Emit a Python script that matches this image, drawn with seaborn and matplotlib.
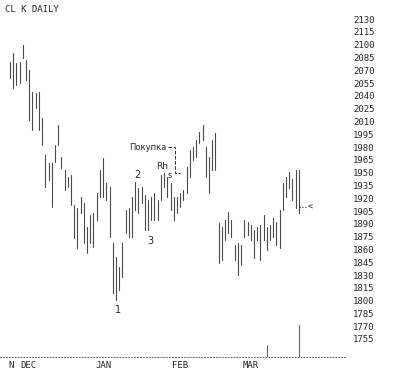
import pandas as pd
import numpy as np
import seaborn as sns
import matplotlib.pyplot as plt

# daily high / low of the CL K contract
highs = [2080, 2090, 2078, 2080, 2100, 2082, 2070, 2045, 2043, 2045,
         2014, 1971, 1961, 1961, 1982, 2006, 1968, 1953, 1945, 1947,
         1912, 1909, 1921, 1914, 1886, 1900, 1903, 1926, 1953, 1967,
         1938, 1933, 1868, 1851, 1839, 1868, 1906, 1909, 1921, 1939,
         1932, 1933, 1924, 1918, 1921, 1926, 1918, 1947, 1950, 1945,
         1938, 1921, 1921, 1926, 1930, 1957, 1977, 1980, 1988, 1998,
         2006, 1980, 1968, 1988, 1996, 1891, 1886, 1895, 1904, 1895,
         1865, 1868, 1865, 1895, 1892, 1889, 1883, 1886, 1889, 1900,
         1886, 1889, 1897, 1892, 1906, 1938, 1945, 1951, 1943, 1953,
         1953]
lows = [2061, 2049, 2053, 2055, 2084, 2059, 2012, 2000, 2026, 2000,
        1982, 1933, 1941, 1910, 1962, 1982, 1955, 1930, 1933, 1912,
        1873, 1862, 1903, 1868, 1856, 1868, 1863, 1895, 1921, 1921,
        1918, 1875, 1809, 1801, 1812, 1828, 1879, 1875, 1875, 1906,
        1903, 1914, 1883, 1883, 1895, 1895, 1895, 1918, 1933, 1921,
        1906, 1895, 1903, 1910, 1918, 1926, 1945, 1965, 1968, 1985,
        1988, 1945, 1926, 1953, 1953, 1844, 1848, 1871, 1879, 1875,
        1848, 1830, 1842, 1875, 1877, 1871, 1850, 1871, 1848, 1871,
        1859, 1871, 1875, 1865, 1862, 1906, 1921, 1932, 1918, 1909,
        1903]
last_price = 1910

# small lines on the bottom strip
spike_idx = [80, 90]
spike_top = [1748, 1771]

month_pos = [0.3, 5.6, 29, 53, 75]
month_labels = ['N', 'DEC', 'JAN', 'FEB', 'MAR']
y_ticks = [2130, 2115, 2100, 2085, 2070, 2055, 2040, 2025, 2010, 1995,
           1980, 1965, 1950, 1935, 1920, 1905, 1890, 1875, 1860, 1845,
           1830, 1815, 1800, 1785, 1770, 1755]

n = len(highs)
df = pd.DataFrame({'day': list(range(n)) * 2, 'price': highs + lows})

sns.set_style('white')
plt.rcParams['font.family'] = ['DejaVu Sans Mono', 'DejaVu Sans']

fig = plt.figure(figsize=(4.0, 3.78), dpi=100)
ax = fig.add_axes([0, 21 / 378, 345 / 400, 357 / 378])

sns.lineplot(data=df, x='day', y='price', units='day', estimator=None,
             color='#4a4a4a', linewidth=0.8, ax=ax)

spikes = pd.DataFrame({'day': spike_idx * 2,
                       'price': spike_top + [1733.9] * len(spike_idx)})
sns.lineplot(data=spikes, x='day', y='price', units='day', estimator=None,
             color='#666666', linewidth=0.8, ax=ax)

# last price marker
ax.plot([n - 1, n + 1.6], [last_price, last_price], ls=':', color='#333', lw=0.8)
ax.text(n + 1.6, last_price, '<', fontsize=6, va='center', ha='left', color='#222')

ax.set_xlim(-10 / 3.21, 335 / 3.21)
ax.set_ylim(1733.9, 2152.3)
ax.set_xlabel('')
ax.set_ylabel('')

ax.yaxis.tick_right()
ax.set_yticks(y_ticks)
ax.set_yticklabels([str(v) for v in y_ticks], fontsize=6.5)
ax.tick_params(axis='y', length=0, pad=6)
ax.set_xticks(month_pos)
ax.set_xticklabels(month_labels, fontsize=6.5)
ax.tick_params(axis='x', length=0, pad=3)

for s in ['top', 'right', 'left']:
    ax.spines[s].set_visible(False)
ax.spines['bottom'].set_linestyle((0, (1, 2)))
ax.spines['bottom'].set_color('#666666')
ax.spines['bottom'].set_linewidth(0.7)

# wave labels and the buy note
ax.text(33.8, 1795, '1', fontsize=7, ha='center', va='top', family='DejaVu Sans')
ax.text(39.6, 1941, '2', fontsize=7, ha='center', va='bottom', family='DejaVu Sans')
ax.text(43.6, 1876, '3', fontsize=7, ha='center', va='top', family='DejaVu Sans')
ax.text(47.4, 1952, 'Rh', fontsize=6.5, ha='center', va='bottom', family='DejaVu Sans')
ax.text(49.9, 1941, 's', fontsize=6, ha='center', va='bottom', family='DejaVu Sans')
ax.text(48.7, 1980, 'Покупка', fontsize=6, ha='right', va='center', family='DejaVu Sans')
ax.plot([49.3, 51.4, 51.4, 53.0], [1980, 1980, 1950, 1950], ls='--', color='#333', lw=0.7)

fig.text(5 / 400, 1 - 10 / 378, 'CL K DAILY', fontsize=6.5, va='center', ha='left')

plt.savefig('out.png', dpi=100)
